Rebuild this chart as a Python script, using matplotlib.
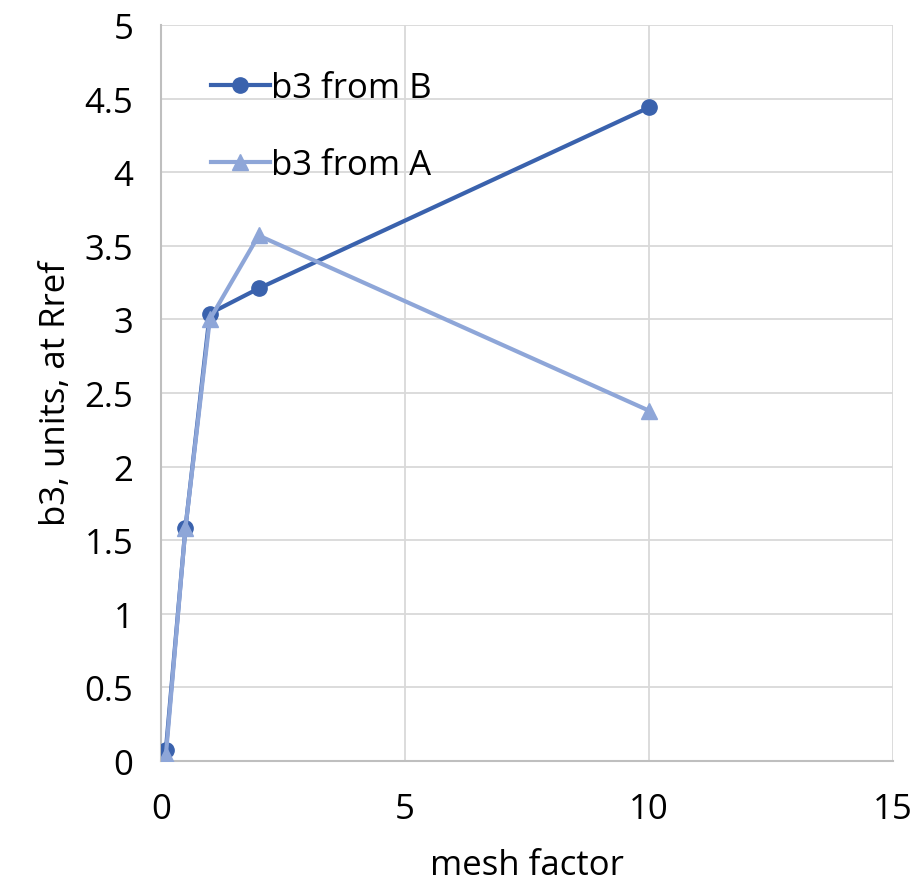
import matplotlib
matplotlib.use('Agg')
import matplotlib.pyplot as plt

mesh = [0.1, 0.5, 1, 2, 10]
b3_from_B = [0.075, 1.58, 3.04, 3.21, 4.44]
b3_from_A = [0.04, 1.58, 3.0, 3.57, 2.38]

plt.rcParams['font.family'] = ['Open Sans', 'DejaVu Sans']

fig = plt.figure(figsize=(9.16, 8.95), dpi=100)
ax = fig.add_axes([161/916, 1-762/895, (893-161)/916, (762-26)/895])

ax.plot(mesh, b3_from_B, color='#3A62AD', lw=3, marker='o', ms=11, label='b3 from B', zorder=3)
ax.plot(mesh, b3_from_A, color='#8EA6D8', lw=3, marker='^', ms=11, label='b3 from A', zorder=4)

ax.set_xlim(0, 15)
ax.set_ylim(0, 5)
ax.set_xticks([0, 5, 10, 15])
ax.set_yticks([0, 0.5, 1, 1.5, 2, 2.5, 3, 3.5, 4, 4.5, 5])
ax.set_yticklabels(['0', '0.5', '1', '1.5', '2', '2.5', '3', '3.5', '4', '4.5', '5'])
ax.grid(True, color='#D9D9D9', lw=1.3)
ax.set_axisbelow(True)
for s in ['top', 'right']:
    ax.spines[s].set_visible(False)
for s in ['left', 'bottom']:
    ax.spines[s].set_color('#BFBFBF')
    ax.spines[s].set_linewidth(1.5)
ax.tick_params(length=0, labelsize=25)
ax.tick_params(axis='y', pad=20)
ax.tick_params(axis='x', pad=22)
ax.set_xlabel('mesh factor', fontsize=25, labelpad=16)
ax.set_ylabel('b3, units, at Rref', fontsize=25, labelpad=8)

ax.legend(loc='upper left', bbox_to_anchor=(0.025, 0.98), frameon=False, fontsize=25,
          handlelength=1.7, handletextpad=0.03, labelspacing=1.25)

fig.savefig('out.png', dpi=100)
